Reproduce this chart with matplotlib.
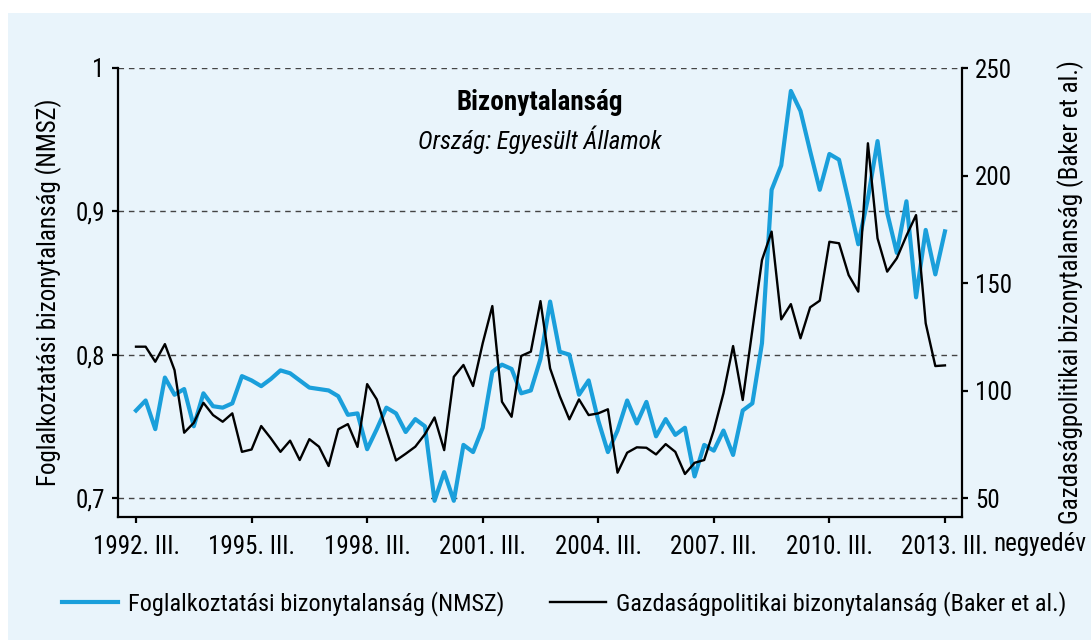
import matplotlib
matplotlib.use('Agg')
import matplotlib.pyplot as plt
import matplotlib.transforms as mtransforms

plt.rcParams['font.family'] = ['Roboto Condensed', 'Liberation Sans Narrow', 'Liberation Sans', 'DejaVu Sans']

# Negyedéves adatok: 1992. III. - 2013. III.
foglalkoztatasi = [
    0.761, 0.768, 0.748, 0.784, 0.772, 0.776, 0.750, 0.773, 0.764, 0.763,
    0.766, 0.785, 0.782, 0.778, 0.783, 0.789, 0.787, 0.782, 0.777, 0.776,
    0.775, 0.771, 0.758, 0.759, 0.734, 0.748, 0.763, 0.759, 0.746, 0.755,
    0.750, 0.698, 0.718, 0.698, 0.737, 0.732, 0.749, 0.788, 0.793, 0.790,
    0.773, 0.775, 0.797, 0.837, 0.802, 0.800, 0.772, 0.782, 0.754, 0.732,
    0.747, 0.768, 0.752, 0.767, 0.743, 0.755, 0.744, 0.749, 0.715, 0.737,
    0.733, 0.747, 0.730, 0.761, 0.766, 0.808, 0.915, 0.932, 0.984, 0.970,
    0.942, 0.915, 0.940, 0.936, 0.907, 0.877, 0.909, 0.949, 0.899, 0.871,
    0.907, 0.840, 0.887, 0.856, 0.886,
]
gazdasagpolitikai = [
    120.4, 120.4, 113.4, 121.6, 109.5, 80.4, 85.0, 94.3, 88.6, 85.5,
    89.4, 71.5, 72.6, 83.5, 77.8, 71.5, 76.7, 67.7, 77.4, 73.9,
    64.9, 82.0, 84.4, 73.8, 103.0, 95.9, 81.6, 67.5, 70.6, 73.9,
    79.7, 87.5, 72.3, 106.4, 111.9, 102.1, 122.0, 139.3, 94.8, 87.8,
    116.1, 118.1, 141.6, 110.3, 97.4, 86.6, 95.9, 88.6, 89.4, 91.3,
    61.8, 71.1, 73.6, 73.4, 70.3, 75.1, 71.5, 61.2, 66.4, 67.7,
    81.6, 98.7, 120.7, 95.6, 128.1, 160.7, 173.9, 133.1, 140.2, 124.3,
    138.7, 141.8, 169.2, 168.5, 153.7, 146.0, 215.0, 170.8, 155.3, 161.5,
    172.0, 181.6, 131.3, 111.4, 111.7,
]
negyedevek = list(range(len(foglalkoztatasi)))
tick_labels = ['1992. III.', '1995. III.', '1998. III.', '2001. III.',
               '2004. III.', '2007. III.', '2010. III.', '2013. III.']
bal_tickek = [0.7, 0.8, 0.9, 1.0]
bal_cimkek = ['0,7', '0,8', '0,9', '1']
jobb_tickek = [50, 100, 150, 200, 250]

hatter = '#e9f4fb'
kek = '#1a9fdb'
fs = 18

fig = plt.figure(figsize=(10.91, 6.4), dpi=100)
fig.patch.set_facecolor('white')
fig.patches.append(plt.Rectangle((8 / 1091, 0), 1, 1 - 13 / 640, transform=fig.transFigure,
                                 facecolor=hatter, edgecolor='none', zorder=-10))

ax = fig.add_axes([118 / 1091, 1 - 517 / 640, (962 - 118) / 1091, (517 - 68) / 640])
ax.set_facecolor(hatter)
ax2 = ax.twinx()

for y in bal_tickek:
    ax.axhline(y, color='#444444', lw=1.0, ls=(0, (4, 3.5)), zorder=1)

l1, = ax.plot(negyedevek, foglalkoztatasi, color=kek, lw=3.0, zorder=3,
              label='Foglalkoztatási bizonytalanság (NMSZ)')
l2, = ax2.plot(negyedevek, gazdasagpolitikai, color='black', lw=1.7, zorder=4,
               label='Gazdaságpolitikai bizonytalanság (Baker et al.)')
ax2.patch.set_visible(False)

ax.set_xlim(-1.87, 85.77)
ax.set_ylim(0.6867, 1.0)
ax2.set_ylim(41.2, 250)

ax.set_xticks(negyedevek[::12])
ax.set_xticklabels(tick_labels)
ax.set_yticks(bal_tickek)
ax.set_yticklabels(bal_cimkek)
ax2.set_yticks(jobb_tickek)

for a in (ax, ax2):
    a.spines['top'].set_visible(False)
    for s in a.spines.values():
        s.set_linewidth(1.6)
    a.tick_params(direction='out', length=4.6, width=1.6, labelsize=fs, pad=5)
ax.tick_params(axis='x', pad=8)
ax.spines['right'].set_visible(False)
ax2.spines['left'].set_visible(False)
ax2.spines['bottom'].set_visible(False)

ax.set_ylabel('Foglalkoztatási bizonytalanság (NMSZ)', fontsize=fs)
ax2.set_ylabel('Gazdaságpolitikai bizonytalanság (Baker et al.)', fontsize=fs)
ax.yaxis.set_label_coords(-0.066, 0.5)
ax2.yaxis.set_label_coords(1.113, 0.5)

trans = mtransforms.blended_transform_factory(ax.transData, ax.transAxes)
ax.annotate('negyedév', xy=(84, 0), xycoords=trans, xytext=(35, -10.5),
            textcoords='offset points', ha='left', va='top', fontsize=fs)

ax.text(0.5, 0.924, 'Bizonytalanság', transform=ax.transAxes, ha='center', va='center',
        fontsize=19.5, fontweight='bold')
ax.text(0.5, 0.84, 'Ország: Egyesült Államok', transform=ax.transAxes, ha='center',
        va='center', fontsize=fs, style='italic')

fig.legend(handles=[l1, l2], loc='center', bbox_to_anchor=(0.517, 1 - 604 / 640), ncol=2,
           frameon=False, fontsize=17.5, handlelength=2.3, columnspacing=1.9, handletextpad=0.4)

fig.savefig('out.png', dpi=100, facecolor=fig.get_facecolor())
